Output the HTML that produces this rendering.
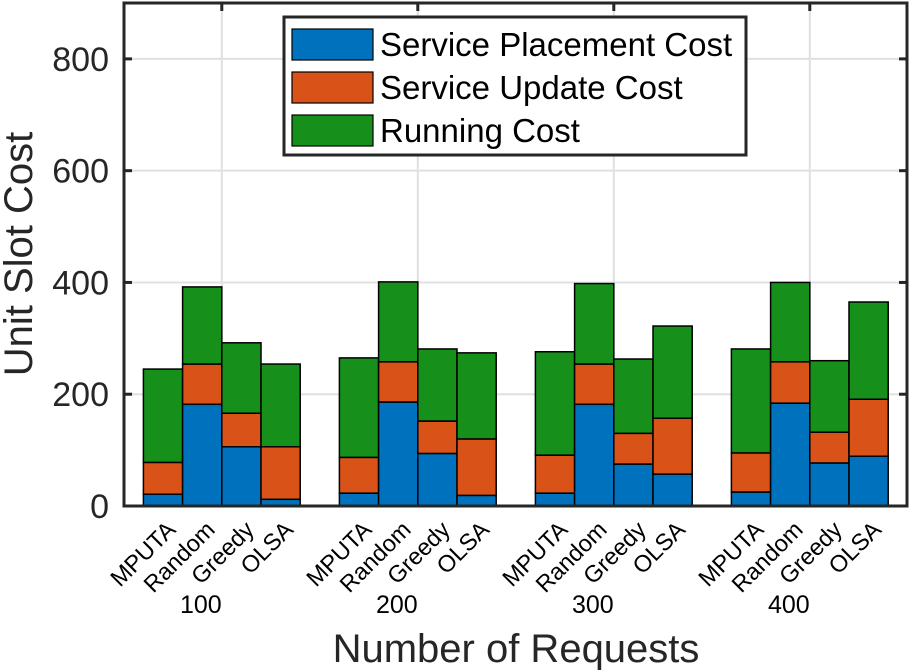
<!DOCTYPE html>
<html><head><meta charset="utf-8">
<style>html,body{margin:0;padding:0;background:#fff;}svg{display:block;font-family:"Liberation Sans",Arial,sans-serif;}</style>
</head><body>
<svg id="chart" width="910" height="670" viewBox="0 0 910 670"></svg>
<script>
const groups = ["100", "200", "300", "400"];
const methods = ["MPUTA", "Random", "Greedy", "OLSA"];
const seriesNames = ["Service Placement Cost", "Service Update Cost", "Running Cost"];
const colors = ["#0072BD", "#D95319", "#16901A"];
// cumulative tops per series: [group][method]
const placement = [[21,182,106,12],[23,186,94,19],[23,182,75,57],[25,184,77,89]];
const updateTop = [[78,254,166,106],[87,258,152,120],[91,254,130,157],[95,258,132,191]];
const totalTop  = [[245,392,292,254],[265,401,281,274],[276,398,263,322],[281,400,260,365]];
const yTicks = [0,200,400,600,800];

const NS = "http://www.w3.org/2000/svg";
const svg = document.getElementById("chart");
function mk(tag, attrs, parent){const e=document.createElementNS(NS,tag);for(const k in attrs)e.setAttribute(k,attrs[k]);(parent||svg).appendChild(e);return e;}

const L=124, R=907, T=3, B=506, yMax=900;
const ys = v => B - v*(B-T)/yMax;
const groupX = g => 221.8 + 196*g;
const barW = 39.2;
const barX = (g,m) => groupX(g) + (m-2)*barW;

// gridlines
for (const t of yTicks){ if(t===0) continue;
  const gl=mk("line",{x1:L,x2:R,y1:ys(t),y2:ys(t),stroke:"#e0e0e0","stroke-width":2});
  
  
}
groups.forEach((g,gi)=>{
  const gl=mk("line",{x1:groupX(gi),x2:groupX(gi),y1:T,y2:B,stroke:"#e0e0e0","stroke-width":2});
  
  
});

// bars
const stacks=[placement,updateTop,totalTop];
groups.forEach((g,gi)=>{
  methods.forEach((m,mi)=>{
    let base=0;
    stacks.forEach((s,si)=>{
      const top=s[gi][mi];
      const r=mk("rect",{x:barX(gi,mi),y:ys(top),width:barW,height:ys(base)-ys(top),fill:colors[si],stroke:"#000","stroke-width":1.5});
      
      
      base=top;
    });
  });
});

// axes frame
const fr=mk("rect",{x:L,y:T,width:R-L,height:B-T,fill:"none",stroke:"#262626","stroke-width":3});


for(const t of yTicks){
  mk("line",{x1:L,x2:L+8,y1:ys(t),y2:ys(t),stroke:"#262626","stroke-width":3});
  mk("line",{x1:R-8,x2:R,y1:ys(t),y2:ys(t),stroke:"#262626","stroke-width":3});
  const tl=mk("text",{x:109,y:ys(t)+12,"text-anchor":"end","font-size":34,fill:"#262626"});
  tl.textContent=t;
  
  
}
groups.forEach((g,gi)=>{
  mk("line",{x1:groupX(gi),x2:groupX(gi),y1:T,y2:T+8,stroke:"#262626","stroke-width":3});
  methods.forEach((m,mi)=>{
    const cx=barX(gi,mi)+barW/2+14, cy=531;
    const t=mk("text",{x:cx,y:cy,"text-anchor":"end","font-size":23.5,fill:"#000",transform:`rotate(-45 ${cx} ${cy})`});
    t.textContent=m;
    
    
  });
  const gt=mk("text",{x:groupX(gi)-21,y:613,"text-anchor":"middle","font-size":25,fill:"#000"});
  gt.textContent=g;
  
  
});

// axis titles
const xt=mk("text",{x:516,y:662,"text-anchor":"middle","font-size":40,fill:"#262626"});
xt.textContent="Number of Requests";


const yt=mk("text",{x:0,y:0,"text-anchor":"middle","font-size":40,fill:"#262626",transform:"translate(32 254) rotate(-90)"});
yt.textContent="Unit Slot Cost";



// legend
const lg=mk("g",{});


mk("rect",{x:284,y:17,width:462,height:138,fill:"#fff",stroke:"#262626","stroke-width":3},lg);
seriesNames.forEach((n,i)=>{
  const y=29+i*43;
  const e=mk("g",{},lg);
  
  
  mk("rect",{x:292,y:y,width:81,height:31,fill:colors[i],stroke:"#000","stroke-width":1.2},e);
  const t=mk("text",{x:380,y:y+27,"font-size":33,fill:"#000"},e);
  t.textContent=n;
});
</script>
</body></html>
